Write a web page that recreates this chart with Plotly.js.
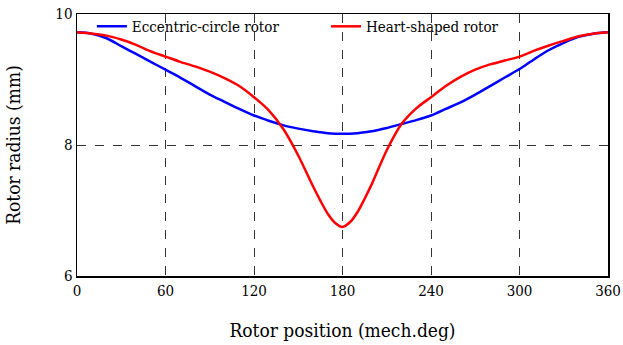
<!DOCTYPE html>
<html>
<head>
<meta charset="utf-8">
<script src="https://cdn.plot.ly/plotly-3.0.1.min.js"></script>
<style>html,body{margin:0;padding:0;background:#fff;}#chart{width:623px;height:345px;}</style>
</head>
<body>
<div id="chart"></div>
<script>
const positions = [0,10,20,30,40,50,60,70,80,90,100,110,120,130,140,150,160,165,170,175,180,185,190,195,200,210,220,230,240,250,260,270,280,290,300,310,320,330,340,350,360];
const eccentricRadius = [9.72,9.70,9.63,9.51,9.39,9.27,9.15,9.03,8.90,8.77,8.66,8.55,8.45,8.37,8.30,8.25,8.21,8.195,8.18,8.172,8.17,8.172,8.18,8.195,8.21,8.26,8.32,8.38,8.45,8.55,8.65,8.77,8.90,9.03,9.16,9.31,9.45,9.56,9.65,9.70,9.72];
const heartRadius = [9.72,9.70,9.67,9.61,9.53,9.43,9.35,9.27,9.20,9.12,9.02,8.90,8.73,8.53,8.24,7.84,7.37,7.15,6.95,6.81,6.75,6.82,6.97,7.18,7.41,7.92,8.32,8.56,8.73,8.90,9.04,9.15,9.23,9.29,9.35,9.44,9.52,9.59,9.66,9.70,9.72];
const seriesNames = ["Eccentric-circle rotor","Heart-shaped rotor"];
const xTicks = [0,60,120,180,240,300,360];
const yTicks = [6,8,10];

const font = '"DejaVu Serif Condensed", "DejaVu Serif", serif';
const traces = [
  {x: positions, y: eccentricRadius, name: seriesNames[0], mode: "lines", legend: "legend",
   line: {color: "#0000FF", width: 2.5, shape: "spline", smoothing: 0.8}},
  {x: positions, y: heartRadius, name: seriesNames[1], mode: "lines", legend: "legend2",
   line: {color: "#FF0000", width: 2.5, shape: "spline", smoothing: 0.8}}
];
const axisCommon = {
  showline: true, mirror: true, linecolor: "#000", linewidth: 1.5,
  showgrid: true, gridcolor: "#333", griddash: "dash", gridwidth: 1,
  zeroline: false, ticks: "", ticklabeloverflow: "allow",
  tickfont: {family: font, size: 15, color: "#000"}
};
const legendCommon = {orientation: "h", yanchor: "middle", y: 0.952, xanchor: "left",
  bgcolor: "rgba(0,0,0,0)", font: {family: font, size: 15, color: "#000"}};
const layout = {
  width: 623, height: 345,
  margin: {l: 77, r: 15, t: 14, b: 69, autoexpand: false},
  paper_bgcolor: "#fff", plot_bgcolor: "#fff",
  font: {family: font, color: "#000"},
  showlegend: true,
  legend: Object.assign({}, legendCommon, {x: 0.028}),
  legend2: Object.assign({}, legendCommon, {x: 0.469}),
  xaxis: Object.assign({}, axisCommon, {
    range: [0, 360], tickvals: xTicks, ticktext: xTicks.map(String),
    title: {text: "Rotor position (mech.deg)", font: {family: font, size: 19, color: "#000"}, standoff: 25}
  }),
  yaxis: Object.assign({}, axisCommon, {
    range: [6, 10], tickvals: yTicks, ticktext: yTicks.map(String),
    title: {text: "Rotor radius (mm)", font: {family: font, size: 19, color: "#000"}, standoff: 29}
  })
};
Plotly.newPlot("chart", traces, layout, {displayModeBar: false, staticPlot: true});
</script>
</body>
</html>
